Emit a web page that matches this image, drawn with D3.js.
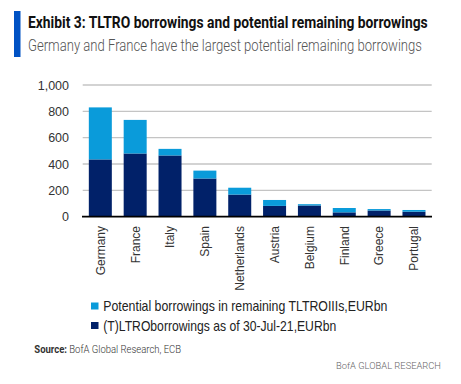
<!DOCTYPE html>
<html><head><meta charset="utf-8">
<script src="https://cdn.jsdelivr.net/npm/d3@7"></script>
<style>body{margin:0;background:#fff}svg{display:block}</style>
</head><body>
<svg id="c" width="461" height="384"></svg>
<script>
const categories = ["Germany","France","Italy","Spain","Netherlands","Austria","Belgium","Finland","Greece","Portugal"];
const borrowed = [435,480,465,290,168,82,85,33,47,38];
const potential = [395,255,50,60,52,45,10,33,11,13];
const yTicks = [0,200,400,600,800,1000];
const seriesNames = ["Potential borrowings in remaining TLTROIIIs,EURbn","(T)LTROborrowings as of 30-Jul-21,EURbn"];

const svg = d3.select("#c");
const navy = "#012169", light = "#0A9BDA";

// helper: place text at (x,y) and squeeze horizontally to a given width
function fitText(parent, x, y, width, attrs, build){
  const g = parent.append("g").attr("transform",`translate(${x},${y})`);
  const t = g.append("text");
  Object.entries(attrs).forEach(([k,v])=>t.attr(k,v));
  build(t);
  const w = t.node().getComputedTextLength();
  g.attr("transform",`translate(${x},${y}) scale(${width/w},1)`);
  return g;
}

// header
svg.append("rect").attr("x",14).attr("y",11).attr("width",6.5).attr("height",46).attr("fill","#0052C4");
fitText(svg,28,28.3,400,{"font-family":"Roboto","font-weight":"bold","font-size":16.5,"fill":"#111"},
  t=>t.text("Exhibit 3: TLTRO borrowings and potential remaining borrowings"));
fitText(svg,28,50.7,394,{"font-family":"Roboto","font-weight":"300","font-size":16,"fill":"#555"},
  t=>t.text("Germany and France have the largest potential remaining borrowings"));

const x = d3.scaleBand().domain(categories).range([82.9,431.4]).paddingInner(0.34).paddingOuter(0.17);
const y = d3.scaleLinear().domain([0,1000]).range([216.7,85]);

// gridlines
svg.append("g").selectAll("line").data(yTicks.filter(d=>d>0)).join("line")
  .attr("x1",82.7).attr("x2",431.7).attr("y1",d=>y(d)).attr("y2",d=>y(d))
  .attr("stroke","#c4c4c4").attr("stroke-width",1.3);

// y labels
svg.append("g").selectAll("text").data(yTicks).join("text")
  .attr("x",69).attr("y",d=>y(d)).attr("dy","0.36em").attr("text-anchor","end")
  .attr("font-family","Liberation Sans, Arial").attr("font-size",12.5).attr("fill","#333")
  .text(d=>d3.format(",")(d));

// bars
const g = svg.append("g");
g.selectAll("rect.b").data(categories).join("rect").attr("class","b")
  .attr("x",d=>x(d)).attr("width",x.bandwidth())
  .attr("y",(d,i)=>y(borrowed[i])).attr("height",(d,i)=>y(0)-y(borrowed[i])).attr("fill",navy);
g.selectAll("rect.p").data(categories).join("rect").attr("class","p")
  .attr("x",d=>x(d)).attr("width",x.bandwidth())
  .attr("y",(d,i)=>y(borrowed[i]+potential[i])).attr("height",(d,i)=>y(borrowed[i])-y(borrowed[i]+potential[i])).attr("fill",light);

// baseline
svg.append("line").attr("x1",82).attr("x2",432).attr("y1",y(0)).attr("y2",y(0)).attr("stroke","#000").attr("stroke-width",1.8);

// x labels
svg.append("g").selectAll("text").data(categories).join("text")
  .attr("transform",d=>`translate(${x(d)+x.bandwidth()/2},226) rotate(-90)`)
  .attr("dy","0.36em").attr("text-anchor","end")
  .attr("font-family","Liberation Sans, Arial").attr("font-size",12).attr("fill","#333")
  .text(d=>d);

// legend
const lg = svg.append("g");
const lw = [284.5,233];
[light,navy].forEach((c,i)=>{
  const cy = 306 + i*19.5;
  lg.append("rect").attr("x",91).attr("y",cy-3.5).attr("width",7.5).attr("height",7).attr("fill",c);
  fitText(lg,103.3,cy+5,lw[i],{"font-family":"Liberation Sans, Arial","font-size":14,"fill":"#222"},
    t=>t.text(seriesNames[i]));
});

// source
fitText(svg,34.3,352.7,147,{"font-family":"Roboto","font-size":10.5,"fill":"#333"},t=>{
  t.append("tspan").attr("font-weight","bold").text("Source:");
  t.append("tspan").attr("font-weight","300").text(" BofA Global Research, ECB");
});
fitText(svg,336,369,105,{"font-family":"Roboto","font-weight":"300","font-size":9.8,"fill":"#666"},
  t=>t.text("BofA GLOBAL RESEARCH"));
</script>
</body></html>
